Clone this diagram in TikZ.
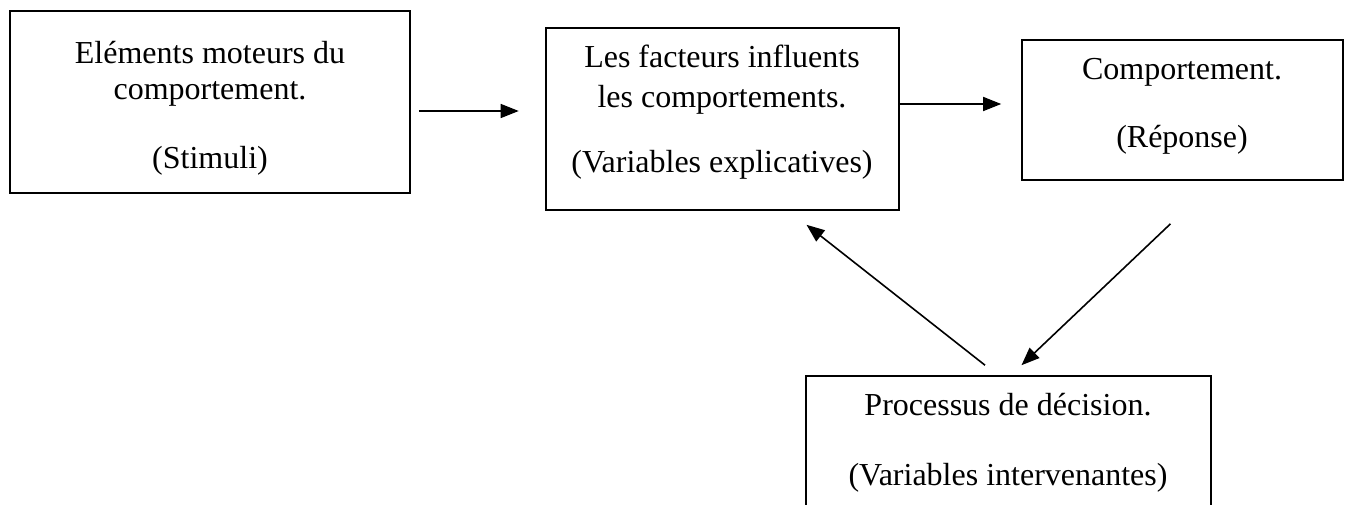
\documentclass[tikz,border=0pt]{standalone}
\usepackage{fontspec}
\setmainfont{Liberation Serif}
\usetikzlibrary{arrows.meta}
\begin{document}
\begin{tikzpicture}[x=1pt,y=-1pt,
  box/.style={draw,line width=1.6pt,rectangle,inner sep=0pt},
  txt/.style={anchor=base,inner sep=0pt,font=\fontsize{32}{38}\selectfont},
  link/.style={line width=1.6pt,-{Triangle[length=18pt,width=14pt]}}]
  \clip (0,0) rectangle (1349,505);
  \useasboundingbox (0,0) rectangle (1349,505);
  % boxes
  \node[box,minimum width=400pt,minimum height=182pt] (A) at (210,102) {};
  \node[box,minimum width=353pt,minimum height=182pt] (B) at (722.5,119) {};
  \node[box,minimum width=321pt,minimum height=140pt] (C) at (1182.5,110) {};
  \node[box,minimum width=405pt,minimum height=200pt] (D) at (1008.5,476) {};
  % box texts
  \node[txt] (a1) at (210,64) {Eléments moteurs du};
  \node[txt] (a2) at (210,100) {comportement.};
  \node[txt] (a3) at (210,169) {(Stimuli)};
  \node[txt] (b1) at (722,68) {Les facteurs influents};
  \node[txt] (b2) at (722,108) {les comportements.};
  \node[txt] (b3) at (722,173) {(Variables explicatives)};
  \node[txt] (c1) at (1182,80) {Comportement.};
  \node[txt] (c2) at (1182,148) {(Réponse)};
  \node[txt] (d1) at (1008,415) {Processus de décision.};
  \node[txt] (d2) at (1008,485) {(Variables intervenantes)};
  % connectors
  \draw[link] ([xshift=8pt,yshift=-9pt]A.east) -- ([xshift=-26.5pt,yshift=8pt]B.west);
  \draw[link] ([yshift=15pt]B.east) -- ([xshift=-20pt,yshift=6pt]C.west);
  \draw[link] ([xshift=-12pt,yshift=-43pt]C.south) -- ([xshift=13pt,yshift=10pt]D.north);
  \draw[link] ([xshift=-23.5pt,yshift=10pt]D.north) -- ([xshift=84pt,yshift=-14pt]B.south);
\end{tikzpicture}
\end{document}
